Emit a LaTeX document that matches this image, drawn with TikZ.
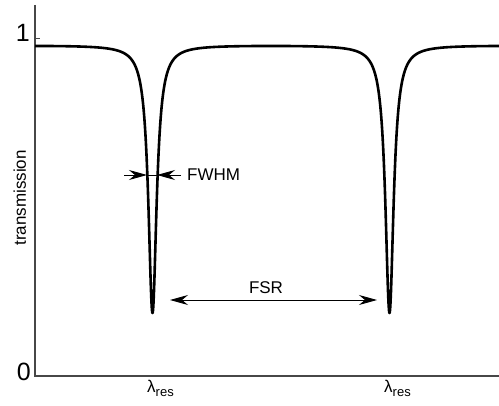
\documentclass[tikz,border=0pt]{standalone}
\usepackage{fontspec}
\setmainfont{Liberation Sans}
\usetikzlibrary{arrows.meta}
\begin{document}
\begin{tikzpicture}[x=1pt,y=-1pt,
  axis/.style={line width=1.5pt, draw=black!72},
  tick/.style={line width=0.8pt, draw=black!72},
  curve/.style={line width=2.6pt, line join=round},
  dimline/.style={line width=0.9pt},
  dimarrow/.style={line width=0.9pt, -{Stealth[length=18pt,width=10pt,inset=6pt]}},
  lbl/.style={inner sep=0pt, font=\fontsize{17}{17}\selectfont},
  digit/.style={inner sep=0pt, font=\fontsize{25}{25}\selectfont}]
\useasboundingbox (0,0) rectangle (499,406);
% axes
\coordinate (ytop) at (35,5);
\coordinate (orig) at (35,376);
\coordinate (xend) at (499,376);
\draw[axis] (ytop) -- (orig) -- (xend);
\coordinate (tickA) at (35,38);
\coordinate (tickB) at (40,38);
\draw[tick] (tickA) -- (tickB);
% labels on axes
\node[digit, anchor=base east] (one) at (30,42) {1};
\node[digit, anchor=base east] (zero) at (31,381) {0};
\node[lbl, rotate=90, anchor=base] (ylab) at (26,198) {transmission};
\node[lbl, anchor=base west] (res1) at (147,393) {λ\raisebox{-4pt}{\fontsize{13}{13}\selectfont res}};
\node[lbl, anchor=base west] (res2) at (384,393) {λ\raisebox{-4pt}{\fontsize{13}{13}\selectfont res}};
% transmission curve (Airy-type)
\draw[curve] plot[domain=35:499, samples=1857]
  (\x, {44.8 + 268.2/(1 + 228*sin((\x-152.5)/237*180)*sin((\x-152.5)/237*180))});
% FWHM
\coordinate (fwL) at (124,175);
\coordinate (fwLt) at (147,175);
\coordinate (fwR) at (181,175);
\coordinate (fwRt) at (157,175);
\draw[dimline] (fwLt) -- (fwRt);
\draw[dimarrow] (fwL) -- (fwLt);
\draw[dimarrow] (fwR) -- (fwRt);
\node[lbl, anchor=west] (fwhm) at (187,175) {FWHM};
% FSR
\coordinate (fsrL) at (170,300);
\coordinate (fsrR) at (377,300);
\draw[dimline, {Stealth[length=18pt,width=10pt,inset=6pt]}-{Stealth[length=18pt,width=10pt,inset=6pt]}] (fsrL) -- (fsrR);
\node[lbl, anchor=center] (fsr) at (266,288) {FSR};
\end{tikzpicture}
\end{document}
